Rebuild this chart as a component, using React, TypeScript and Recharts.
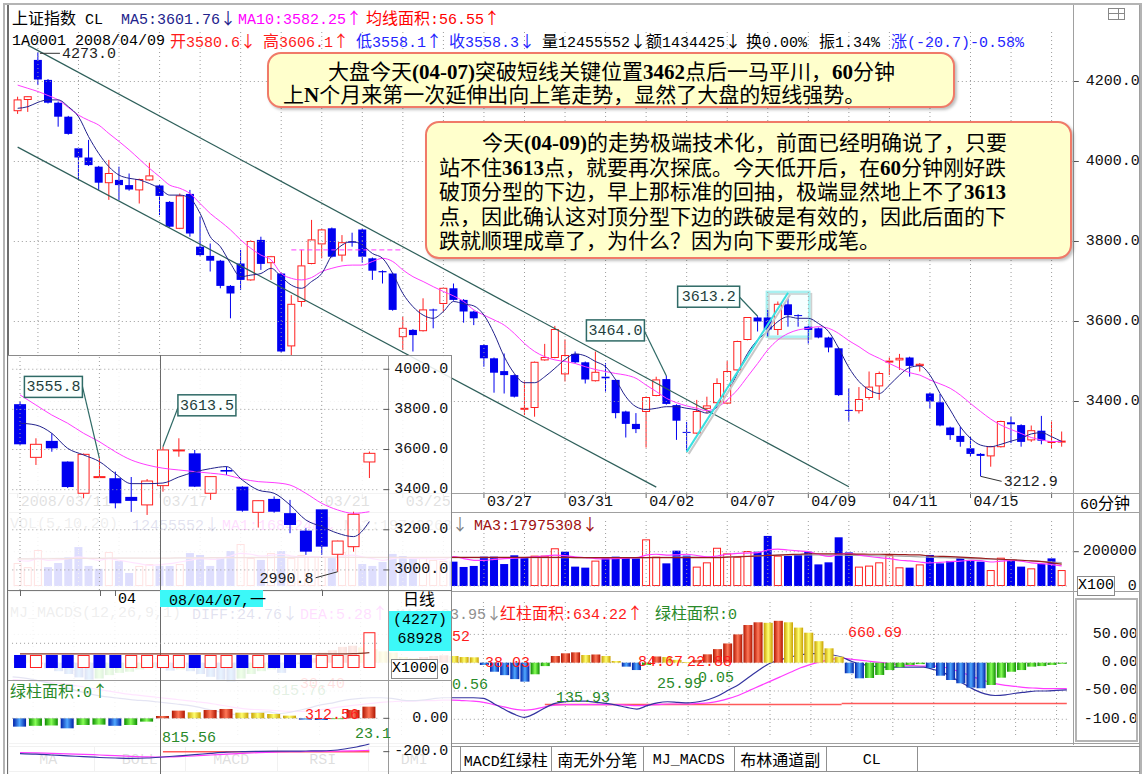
import React from 'react';
import { ComposedChart, Bar, Line, XAxis, YAxis, ReferenceLine, ReferenceDot, ReferenceArea } from 'recharts';

const W = 1147;
const H = 774;
const MONO = '"Liberation Mono", "DejaVu Sans Mono", monospace';
const CJKF = '"Noto Sans CJK SC", "Noto Sans CJK JP", sans-serif';
const SERIF = '"Liberation Serif", "DejaVu Serif", serif';
const RED = '#ff2020';
const BLUE = '#0000f0';
const NAVY = '#22228c';
const MAG = '#ff3cff';
const GRID = '#9c9c9c';

// ---------------- 60-minute chart (104 bars) ----------------
const openP = [4127,4155,4254,4204,4147,4112,4033,4010,3987,3947, 3954,3941,3929,3954,3940,3899,3833,3919,3787,3764,
  3752,3689,3745,3704,3804,3747,3720,3539,3650,3745, 3794,3833,3766,3800,3830,3758,3726,3720,3562,3579,
  3577,3630,3645,3683,3654,3625,3541,3508,3476,3466, 3381,3385,3504,3510,3469,3519,3498,3452,3462,3454,
  3375,3344,3375,3415,3456,3391,3324,3321,3383,3397, 3396,3479,3555,3610,3610,3580,3643,3616,3587,3583,
  3560,3533,3379,3377,3410,3439,3500,3504,3510,3490, 3420,3398,3335,3314,3283,3269,3264,3287,3348,3341,
  3304,3327,3298,3299];
const highP = [4162,4163,4273,4206,4150,4114,4035,4054,3989,4004, 3987,3970,3957,3997,3943,3901,3920,3929,3862,3795,
  3754,3691,3779,3803,3812,3764,3722,3666,3779,3854, 3831,3835,3816,3822,3832,3760,3728,3722,3612,3581,
  3658,3632,3685,3695,3656,3627,3543,3510,3520,3468, 3450,3500,3544,3589,3555,3525,3500,3525,3496,3456,
  3377,3371,3412,3462,3464,3393,3349,3404,3412,3458, 3501,3552,3611,3613.2,3629,3650,3658,3618,3589,3585,
  3562,3535,3433,3436,3475,3475,3510,3519,3512,3496, 3422,3419,3337,3337,3312,3271,3289,3352,3362,3343,
  3340,3364,3350,3325];
const lowP = [4119,4124,4191,4145,4087,4067,3954,3989,3929,3904, 3904,3927,3895,3952,3866,3835,3831,3812,3764,3725,
  3683,3608,3679,3702,3729,3704,3523,3516,3637,3743, 3758,3760,3750,3787,3747,3704,3695,3627,3529,3525,
  3575,3583,3625,3652,3597,3591,3487,3422,3420,3410, 3366,3362,3502,3508,3450,3495,3445,3450,3425,3358,
  3310,3321,3285,3413,3392,3304,3277,3319,3371,3395, 3394,3477,3553,3575,3562,3566,3587,3587,3545,3558,
  3523,3414,3350,3370,3404,3404,3466,3479,3462,3475, 3383,3338,3304,3287,3262,3212.9,3237,3285,3296,3287,
  3299,3293,3283,3287];
const closeP = [4154,4162,4205,4147,4112,4069,4010,3991,3947,3970, 3941,3930,3955,3964,3914,3837,3914,3820,3766,3752,
  3689,3670,3704,3800,3744,3762,3525,3643,3739,3804, 3829,3762,3797,3797,3762,3727,3723,3629,3583,3566,
  3629,3629,3683,3654,3625,3608,3508,3472,3466,3412, 3383,3498,3510,3580,3515,3498,3455,3473,3458,3371,
  3344,3331,3410,3454,3394,3352,3322,3375,3389,3445, 3475,3550,3610,3600,3580,3643,3616,3614,3579,3560,
  3535,3416,3377,3405,3436,3470,3501,3508,3489,3493, 3400,3340,3316,3299,3269,3264,3287,3350,3343,3299,
  3327,3302,3300,3301];
const ma5 = [4133,4137,4148,4154,4154,4137,4112,4062,4020,3987, 3966,3958,3954,3945,3933,3916,3916,3908,3870,3812,
  3787,3745,3712,3716,3720,3733,3712,3691,3683,3700, 3720,3766,3791,3800,3791,3770,3758,3720,3670,3637,
  3616,3608,3625,3650,3644,3639,3616,3570,3512,3470, 3447,3447,3462,3483,3505,3519,3514,3500,3487,3454,
  3412,3387,3380,3383,3387,3387,3383,3379,3371,3387, 3420,3470,3520,3554,3575,3600,3612,3608,3608,3595,
  3575,3533,3485,3450,3429,3420,3441,3466,3485,3489, 3466,3420,3379,3337,3308,3291,3287,3293,3301,3308,
  3319,3322,3312,3300];
const ma10 = [4191,4183,4175,4165,4154,4135,4116,4103,4091,4070, 4050,4029,4006,3983,3962,3941,3933,3920,3895,3870,
  3850,3829,3804,3783,3766,3754,3720,3708,3704,3710, 3725,3733,3739,3741,3741,3750,3758,3750,3729,3712,
  3700,3687,3675,3664,3650,3629,3616,3604,3591,3570, 3545,3525,3512,3504,3500,3495,3487,3480,3475,3470,
  3466,3458,3441,3425,3408,3397,3389,3383,3377,3385, 3404,3429,3462,3495,3529,3554,3570,3579,3583,3587,
  3583,3570,3552,3537,3520,3508,3495,3483,3472,3466, 3454,3444,3433,3416,3395,3375,3356,3341,3330,3320,
  3310,3304,3300,3300];
// volume in thousands (axis unit X100)
const volumeK = [134,110,210,110,134,169,227,117,100,198, 146,76,117,128,117,117,128,192,181,117,
  163,204,245,163,152,192,204,163,181,175, 169,163,198,227,128,117,140,187,175,158,
  169,152,146,142,111,117,171,171,128,179, 165,177,177,220,200,113,107,148,165,171,
  165,161,272,171,132,206,177,113,138,223, 190,171,204,200,292,177,175,185,200,126,
  138,284,196,113,119,138,181,109,107,126, 181,132,146,165,152,142,93,165,152,113,
  103,128,161,93];
const volMaA = [150,145,160,150,152,160,170,160,150,160, 150,140,130,120,125,130,140,150,160,155,
  160,175,190,185,175,180,185,175,170,172, 170,168,175,180,170,160,150,160,165,160,
  160,158,155,172,160,150,150,155,160,162, 165,170,175,180,177,170,165,160,158,160,
  163,165,180,185,180,182,185,178,170,175, 185,190,192,195,210,215,210,205,200,185,
  172,185,190,180,172,165,160,150,146,140, 135,138,142,145,150,148,140,145,150,145,
  135,130,125,117];
const volMaB = [160,160,161,161,162,162,162,163,163,163, 163,162,162,161,161,161,162,162,163,163,
  164,165,166,167,168,168,168,168,168,168, 167,167,167,167,166,166,165,165,165,165,
  165,165,165,165,165,165,165,165,165,165, 165,165,166,166,166,165,165,165,165,165,
  165,165,166,167,167,168,168,168,168,168, 170,172,174,176,178,180,181,182,182,181,
  180,180,179,178,177,176,175,174,172,170, 168,166,164,162,160,158,156,154,152,150,
  147,144,140,136];
const volMaC = [158,158,159,159,160,160,161,161,161,162, 162,162,163,163,163,163,164,164,164,165,
  165,165,166,166,166,166,167,167,167,167, 167,167,167,167,167,167,167,167,167,167,
  167,167,167,167,167,167,167,167,167,167, 167,167,167,167,167,166,166,166,166,166,
  166,166,166,166,166,166,166,166,166,166, 168,170,172,175,178,180,183,185,188,188,
  187,187,186,186,185,185,184,183,182,181, 175,173,171,168,165,162,159,156,153,150,
  146,142,135,128];
const macdHist = [8,5,-3,-10,-15,-20,-26,-30,-28,-22, -18,-16,-12,-8,-10,-14,-12,-15,-20,-25,
  -30,-33,-28,-20,-15,-12,-18,-10,-2,8, 18,22,28,30,27,24,20,18,10,8,
  10,12,13,11.8,10,9.5,-4,-16,-22,-29, -33.5,-20.5,-6,11.8,16.6,18.3,13.6,14.5,11.8,3,
  -7,-13,-4,11,10,5,1,5,14.8,24, 34,50,66.6,71.4,70.5,74,71.4,62,53,38,
  25.4,10.6,-18.7,-27.6,-27,-21.7,-13,-8,-4,-2.5, -9.4,-23,-30.6,-36.4,-44,-45.2,-39.4,-26.5,-16,-13,
  -7,-6,-4,-2];
const macdDiff = [-25,-27,-30,-34,-38,-43,-48,-53,-57,-60, -62,-64,-66,-67,-69,-71,-73,-75,-78,-82,
  -86,-90,-92,-90,-88,-87,-90,-88,-84,-80, -75,-72,-68,-65,-63,-62,-62,-63,-66,-67,
  -66,-64,-62,-62,-62,-62,-63,-72,-82,-91, -96.5,-90,-80,-72,-69,-68,-68,-70,-72,-75,
  -79,-82,-76,-71,-69,-70,-71,-69,-65,-58, -48,-38,-25,-12,-1,5,10,14,16,16,
  14,10,2,-3,-6,-8,-8,-8,-8,-8, -12,-18,-28,-38,-48,-55,-58,-57,-54,-52,
  -50,-50,-49,-48];
const macdDea = [-30,-31,-32,-33,-35,-37,-40,-43,-46,-49, -52,-55,-57,-59,-61,-63,-65,-67,-69,-71,
  -74,-77,-80,-82,-83,-84,-85,-86,-86,-85, -83,-81,-78,-76,-74,-72,-70,-69,-68,-68,
  -67,-67,-66,-66,-67,-68,-70,-74,-78,-82, -84,-82,-78,-75,-74,-74,-74,-74,-74,-74,
  -75,-76,-75,-74,-73,-73,-73,-72,-71,-68, -63,-57,-49,-41,-33,-25,-17,-9,-3,2,
  6,8,6,4,2,0,-2,-4,-5,-6, -6,-8,-13,-19,-26,-32,-37,-40,-42,-44,
  -45,-46,-46,-46];
const macdBase = [-74, -72];

const dayTicks = [1,3,7,11,15,19,23,27,31,35,39,43,47,51,55,59,63,67,71,75,79,83,87,91,95,99,103];
const gridDays = [3,7,11,15,19,23,27,31,35,39,43,47,51,55,59,63,67,71,75,79,83,87,91,95,99,103];
const dateLabels = { 1: '2008/03/11', 15: '03/17', 31: '03/21', 39: '03/25', 47: '03/27', 55: '03/31', 63: '04/02', 71: '04/07', 79: '04/09', 87: '04/11', 95: '04/15' };
const priceTicks = [3400, 3600, 3800, 4000, 4200];

// ---------------- daily inset (23 bars) ----------------
const dOpen = [3826,3561,3643,3540,3382,3462,3457,3364,3324,3420, 3596,3581,3382,3498,3415,3287,3354,3283,3196,3302, 3078,3116,3538];
const dHigh = [3839,3656,3681,3541,3580,3555.8,3490,3463,3453,3613.5, 3656,3598,3467,3515,3417,3347,3366,3349,3208,3304, 3146,3290,3590];
const dLow = [3623,3523,3589,3408,3357,3459,3307,3289,3274,3390, 3564,3413,3349,3473,3290,3211,3285,3183,3075,3075, 2990.8,3091,3458];
const dClose = [3626,3626,3606,3413,3576,3465,3332,3344,3443,3598, 3598,3415,3465,3490,3295,3345,3290,3224,3091,3116, 3144,3277,3581];
const dMa5 = [3731,3722,3681,3606,3573,3540,3480,3430,3430,3433, 3463,3488,3505,3515,3448,3398,3382,3324,3249,3216, 3183,3166,3241];
const dMa10 = [3872,3822,3772,3731,3681,3639,3589,3548,3523,3507, 3498,3490,3482,3473,3453,3440,3435,3423,3382,3332, 3299,3282,3290];
const dVolBox = [100,100,100,100,100,100,100,100,100,100, 100,100,100,100,100,100,100,100,100,100, 100,100,275];
const dVolMa = [108,108,108,108,108,108,108,108,108,108, 108,108,108,108,108,108,108,108,108,108, 108,110,118];
const dMacd = [-50,-45,-43,-60,-40,-38,-45,-40,-20,14, 46,36,50,56,34,33,26,16,-8,-10, -5,50,70];
const dDiff = [-212,-215,-220,-225,-230,-235,-238,-240,-238,-232, -225,-218,-210,-203,-200,-198,-197,-197,-196,-195, -190,-175,-154];
const dDea = [-205,-207,-210,-213,-216,-220,-224,-228,-231,-232, -230,-226,-220,-215,-210,-206,-203,-200,-199,-198, -197,-195,-192];
const dTicks = [3000, 3200, 3400, 3600, 3800, 4000];

function histColor(arr, i) {
  const v = arr[i];
  const prev = i === 0 ? 0 : arr[i - 1];
  if (v >= 0) return v >= prev ? 'R' : 'Y';
  return v <= prev ? 'B' : 'G';
}

const mainData = openP.map((o, i) => ({
  n: i + 1, o, h: highP[i], l: lowP[i], c: closeP[i], ma5: ma5[i], ma10: ma10[i],
  vol: volumeK[i], vUp: i === 0 ? closeP[0] >= o : closeP[i] >= closeP[i - 1],
  va: volMaA[i], vb: volMaB[i], vc: volMaC[i],
  hist: macdHist[i], hc: histColor(macdHist, i), diff: macdDiff[i], dea: macdDea[i],
}));

const insetData = dOpen.map((o, i) => ({
  k: i + 1, o, h: dHigh[i], l: dLow[i], c: dClose[i], ma5: dMa5[i], ma10: dMa10[i],
  vol: dVolBox[i], vm: dVolMa[i], vUp: i === 0 ? dClose[0] >= o : dClose[i] >= dClose[i - 1],
  hist: dMacd[i], hc: histColor(dMacd, i), diff: dDiff[i], dea: dDea[i],
}));

// ---------------- text helpers ----------------
const CJK_RE = /[\u2190-\u21ff\u3000-\u303f\u3400-\u9fff\uff00-\uffef]/;
function runs(s) {
  const out = [];
  for (const ch of s) {
    const c = CJK_RE.test(ch);
    if (out.length && out[out.length - 1].cjk === c) out[out.length - 1].t += ch;
    else out.push({ t: ch, cjk: c });
  }
  return out;
}
function MT({ s, color = '#000', cs = 16, ls = 15, lf = MONO, lw = 400 }) {
  return (
    <span style={{ color, whiteSpace: 'pre' }}>
      {runs(s).map((r, i) => (
        <span key={i} style={{ fontFamily: r.cjk ? CJKF : lf, fontSize: r.cjk ? cs : ls, fontWeight: r.cjk ? 400 : lw }}>{r.t}</span>
      ))}
    </span>
  );
}
function At({ x, y, children, style = {} }) {
  return <div style={{ position: 'absolute', left: x, top: y - 10, lineHeight: '20px', whiteSpace: 'pre', ...style }}>{children}</div>;
}
function HLine({ x1, x2, y, color = '#a0a0a0', w = 1 }) {
  return <div style={{ position: 'absolute', left: x1, top: y, width: x2 - x1, height: w, background: color }} />;
}
function VLine({ x, y1, y2, color = '#a0a0a0', w = 1 }) {
  return <div style={{ position: 'absolute', left: x, top: y1, width: w, height: y2 - y1, background: color }} />;
}

// ---------------- shapes ----------------
function CandleShape(props) {
  const { x, y, width, height, payload } = props;
  if (!payload || payload.h == null) return null;
  const { o, h, l, c } = payload;
  const span = h - l;
  const k = span > 0 ? height / span : 0;
  const py = (v) => y + (h - v) * k;
  const cx = x + width / 2;
  const up = c >= o;
  const bt = py(Math.max(o, c));
  const bh = Math.max(1, py(Math.min(o, c)) - bt);
  if (up) {
    return (
      <g>
        <line x1={cx} x2={cx} y1={py(h)} y2={bt} stroke={RED} strokeWidth={1} />
        <line x1={cx} x2={cx} y1={bt + bh} y2={py(l)} stroke={RED} strokeWidth={1} />
        <rect x={x + 0.5} y={bt} width={width - 1} height={bh} fill="#fff" stroke={RED} strokeWidth={1} />
      </g>
    );
  }
  return (
    <g>
      <line x1={cx} x2={cx} y1={py(h)} y2={py(l)} stroke={BLUE} strokeWidth={1} />
      <rect x={x} y={bt} width={width} height={bh} fill={BLUE} />
    </g>
  );
}
function VolShape(props) {
  const { x, y, width, height, payload } = props;
  if (!payload || payload.vol == null) return null;
  if (payload.vUp) return <rect x={x + 0.5} y={y + 0.5} width={width - 1} height={Math.max(0, height - 1)} fill="#fff" stroke={RED} strokeWidth={1} />;
  return <rect x={x} y={y} width={width} height={height} fill={BLUE} />;
}
const makeHistShape = (prefix) => (props) => {
  let { x, y, width, height, payload } = props;
  if (!payload || payload.hist == null) return null;
  if (height < 0) { y += height; height = -height; }
  return <rect x={x} y={y} width={width} height={Math.max(height, 0.8)} fill={`url(#${prefix}${payload.hc})`} />;
};
function Grads({ p }) {
  const defs = [['R', '#b01400', '#ff7858'], ['Y', '#c8a000', '#ffff70'], ['B', '#0020a8', '#50a8ff'], ['G', '#0c8c00', '#88ff58']];
  return (
    <defs>
      {defs.map(([k, a, b]) => (
        <linearGradient key={k} id={p + k} x1="0" x2="1" y1="0" y2="0">
          <stop offset="0" stopColor={a} />
          <stop offset="0.5" stopColor={b} />
          <stop offset="1" stopColor={a} />
        </linearGradient>
      ))}
    </defs>
  );
}

// ticks
function RightTick({ x, y, payload, fmt, mark = true, endOff = 71 }) {
  return (
    <g>
      {mark && <line x1={x + 6} x2={x + 12} y1={y} y2={y} stroke="#555" />}
      <text x={x + endOff} y={y} textAnchor="end" dominantBaseline="central" fontFamily={MONO} fontSize={15} fill="#111">{fmt(payload.value)}</text>
    </g>
  );
}
function DateTick({ x, y, payload }) {
  const lab = dateLabels[payload.value];
  return (
    <g>
      <line x1={x} x2={x} y1={y} y2={y + 5} stroke="#666" />
      {lab && <text x={x + 3} y={y + 13} fontFamily={MONO} fontSize={15} fill="#111">{lab}</text>}
    </g>
  );
}

// point labels
function BoxLabel({ cx, cy, text, bx, by, bw = 58, bh = 21, ax, ay }) {
  return (
    <g>
      <line x1={cx + ax} y1={cy + ay} x2={cx} y2={cy} stroke="#2f6a66" strokeWidth={1.2} />
      <rect x={cx + bx} y={cy + by} width={bw} height={bh} fill="#fbfffe" stroke="#2f6a66" strokeWidth={1.5} />
      <text x={cx + bx + bw / 2} y={cy + by + bh / 2 + 1} textAnchor="middle" dominantBaseline="central" fontFamily={MONO} fontSize={15} fill="#1e3e3c">{text}</text>
    </g>
  );
}

const peak = { n: 3, v: 4273.0 };
const box3464 = { n: 65, v: 3464.0 };
const box3613 = { n: 74, v: 3613.2 };
const low3212 = { n: 96, v: 3212.9 };
const dBox3555 = { k: 6, v: 3555.8 };
const dBox3613 = { k: 10, v: 3613.5 };
const dLow2990 = { k: 21, v: 2990.8 };

function MainPrice() {
  return (
    <ComposedChart width={W} height={H} data={mainData} margin={{ top: 30, right: 0, bottom: H - 493 - 19, left: 12.6 }}>
      <XAxis dataKey="n" type="category" ticks={dayTicks} interval={0} height={19} tickSize={0} tickMargin={0} axisLine={false} tick={(p) => <DateTick {...p} />} />
      <YAxis orientation="right" type="number" width={80.2} domain={[3171.25, 4328.75]} allowDataOverflow ticks={priceTicks} tickSize={0} tickMargin={0} axisLine={false}
        tick={(p) => <RightTick {...p} fmt={(v) => v.toFixed(1)} endOff={73} />} />
      {priceTicks.map((v) => <ReferenceLine key={'h' + v} y={v} stroke={GRID} strokeDasharray="1 3" />)}
      {gridDays.map((d) => <ReferenceLine key={'v' + d} x={d} stroke={GRID} strokeDasharray="1 3" />)}
      <ReferenceLine segment={[{ x: 2, y: 4291 }, { x: 83, y: 3187 }]} stroke="#2e5f5a" strokeWidth={1.2} />
      <ReferenceLine segment={[{ x: 1, y: 4036 }, { x: 64, y: 3186 }]} stroke="#2e5f5a" strokeWidth={1.2} />
      <ReferenceLine segment={[{ x: 28, y: 3779 }, { x: 39, y: 3779 }]} stroke={MAG} strokeDasharray="5 3" />
      <ReferenceArea x1={76} x2={78} y1={3562} y2={3674} ifOverflow="visible"
        shape={(p) => (
          <g>
            <rect x={p.x - 4} y={p.y + 2} width={p.width + 12} height={p.height} fill="none" stroke="#d0d0d0" strokeWidth={2} />
            <rect x={p.x - 6} y={p.y} width={p.width + 12} height={p.height} fill="rgba(200,255,255,0.15)" stroke="#a8f0f0" strokeWidth={2.5} />
          </g>
        )} />
      <Bar dataKey={(d) => [d.l, d.h]} barSize={8} shape={CandleShape} isAnimationActive={false} />
      <Line dataKey="ma10" type="monotone" stroke={MAG} strokeWidth={1} dot={false} isAnimationActive={false} />
      <Line dataKey="ma5" type="monotone" stroke={NAVY} strokeWidth={1} dot={false} isAnimationActive={false} />
      <ReferenceLine segment={[{ x: 67, y: 3274 }, { x: 77, y: 3672 }]}
        shape={(p) => (
          <g>
            <line x1={p.x1 + 2} y1={p.y1 + 2} x2={p.x2 + 2} y2={p.y2 + 2} stroke="#c8c8c8" strokeWidth={2} />
            <line x1={p.x1} y1={p.y1} x2={p.x2} y2={p.y2} stroke="#38e0e0" strokeWidth={2} />
          </g>
        )} />
      <ReferenceDot x={peak.n} y={peak.v} r={0}
        shape={(p) => (
          <g>
            <line x1={p.cx + 2} y1={p.cy + 1} x2={p.cx + 22} y2={p.cy + 1} stroke="#333" />
            <text x={p.cx + 24} y={p.cy + 6} fontFamily={MONO} fontSize={15} fill="#222">{peak.v.toFixed(1)}</text>
          </g>
        )} />
      <ReferenceDot x={box3464.n} y={box3464.v} r={0}
        shape={(p) => <BoxLabel cx={p.cx} cy={p.cy} text={box3464.v.toFixed(1)} bx={-80} by={-56} ax={-22} ay={-45} />} />
      <ReferenceDot x={box3613.n} y={box3613.v} r={0}
        shape={(p) => <BoxLabel cx={p.cx} cy={p.cy} text={box3613.v.toFixed(1)} bx={-80} by={-30} bw={62} ax={-18} ay={-19} />} />
      <ReferenceDot x={low3212.n} y={low3212.v} r={0}
        shape={(p) => (
          <g>
            <line x1={p.cx} y1={p.cy} x2={p.cx + 21} y2={p.cy + 5} stroke="#333" />
            <text x={p.cx + 23} y={p.cy + 10} fontFamily={MONO} fontSize={15} fill="#222">{low3212.v.toFixed(1)}</text>
          </g>
        )} />
    </ComposedChart>
  );
}

function MainVolume() {
  return (
    <ComposedChart width={W} height={H} data={mainData} margin={{ top: 518, right: 0, bottom: H - 586, left: 12.6 }}>
      <XAxis dataKey="n" type="category" hide />
      <YAxis orientation="right" type="number" width={80.2} domain={[0, 396.5]} ticks={[0, 200]} tickSize={0} tickMargin={0} axisLine={false}
        tick={(p) => <RightTick {...p} mark={p.payload.value !== 0} fmt={(v) => String(v * 1000)} endOff={70} />} />
      <ReferenceLine y={200} stroke={GRID} strokeDasharray="1 3" />
      <ReferenceLine y={0} stroke={GRID} strokeDasharray="1 3" />
      {gridDays.map((d) => <ReferenceLine key={'v' + d} x={d} stroke={GRID} strokeDasharray="1 3" />)}
      <Bar dataKey="vol" barSize={8} shape={VolShape} isAnimationActive={false} />
      <Line dataKey="vb" type="monotone" stroke="#a8a8a8" strokeWidth={1.2} dot={false} isAnimationActive={false} />
      <Line dataKey="va" type="monotone" stroke={MAG} strokeWidth={1.2} dot={false} isAnimationActive={false} />
      <Line dataKey="vc" type="monotone" stroke="#9a1c1c" strokeWidth={1.2} dot={false} isAnimationActive={false} />
    </ComposedChart>
  );
}

const macdMargin = { top: 600, right: 0, bottom: H - 735, left: 12.6 };
const macdDomain = [-127.8, 110.8];

function MainMacdLines() {
  return (
    <ComposedChart width={W} height={H} data={mainData} margin={macdMargin}>
      <XAxis dataKey="n" type="category" hide />
      <YAxis orientation="right" type="number" width={80.2} domain={macdDomain} ticks={[-100, -50, 0, 50]} tickSize={0} tickMargin={0} axisLine={false}
        tick={(p) => <RightTick {...p} mark={false} fmt={(v) => (Math.abs(v) >= 100 ? v.toFixed(1) : v.toFixed(2))} endOff={71} />} />
      {[-100, -50, 0, 50].map((v) => <ReferenceLine key={'h' + v} y={v} stroke={GRID} strokeDasharray="1 3" />)}
      {gridDays.map((d) => <ReferenceLine key={'v' + d} x={d} stroke={GRID} strokeDasharray="1 3" />)}
      <ReferenceLine segment={[{ x: 53, y: macdBase[0] }, { x: 82, y: macdBase[0] }]} stroke="#ff5a5a" strokeWidth={1.6} />
      <ReferenceLine segment={[{ x: 82, y: macdBase[1] }, { x: 104, y: macdBase[1] }]} stroke="#ff5a5a" strokeWidth={1.6} />
      <Line dataKey="dea" type="monotone" stroke={MAG} strokeWidth={1.2} dot={false} isAnimationActive={false} />
      <Line dataKey="diff" type="monotone" stroke="#3434a0" strokeWidth={1.2} dot={false} isAnimationActive={false} />
    </ComposedChart>
  );
}

function MainMacdBars() {
  return (
    <ComposedChart width={W} height={H} data={mainData} margin={macdMargin}>
      <Grads p="mg" />
      <XAxis dataKey="n" type="category" hide />
      <YAxis orientation="right" type="number" width={80.2} domain={macdDomain} tick={false} axisLine={false} tickLine={false} />
      <Bar dataKey="hist" barSize={9} shape={makeHistShape('mg')} isAnimationActive={false} />
    </ComposedChart>
  );
}

function InsetPrice() {
  return (
    <ComposedChart width={460} height={H} data={insetData} margin={{ top: 355, right: 12.7, bottom: H - 590, left: 12.06 }}>
      <XAxis dataKey="k" type="category" hide />
      <YAxis orientation="right" type="number" width={70} domain={[2900, 4071]} allowDataOverflow ticks={dTicks} tickSize={0} tickMargin={0} axisLine={false}
        tick={(p) => <RightTick {...p} fmt={(v) => v.toFixed(1)} endOff={71} />} />
      {dTicks.map((v) => <ReferenceLine key={'h' + v} y={v} stroke={GRID} strokeDasharray="1 3" />)}
      {[1, 6, 20].map((d) => <ReferenceLine key={'v' + d} x={d} stroke={GRID} strokeDasharray="1 3" />)}
      <Bar dataKey={(d) => [d.l, d.h]} barSize={12} shape={CandleShape} isAnimationActive={false} />
      <Line dataKey="ma10" type="monotone" stroke={MAG} strokeWidth={1} dot={false} isAnimationActive={false} />
      <Line dataKey="ma5" type="monotone" stroke={NAVY} strokeWidth={1} dot={false} isAnimationActive={false} />
      <ReferenceDot x={dBox3555.k} y={dBox3555.v} r={0}
        shape={(p) => <BoxLabel cx={p.cx} cy={p.cy} text={dBox3555.v.toFixed(1)} bx={-75} by={-82} ax={-17} ay={-72} />} />
      <ReferenceDot x={dBox3613.k} y={dBox3613.v} r={0}
        shape={(p) => <BoxLabel cx={p.cx} cy={p.cy} text={dBox3613.v.toFixed(1)} bx={15} by={-52} ax={15} ay={-39} />} />
      <ReferenceDot x={dLow2990.k} y={dLow2990.v} r={0}
        shape={(p) => (
          <g>
            <line x1={p.cx} y1={p.cy} x2={p.cx - 22} y2={p.cy + 6} stroke="#333" />
            <text x={p.cx - 24} y={p.cy + 11} textAnchor="end" fontFamily={MONO} fontSize={15} fill="#222">{dLow2990.v.toFixed(1)}</text>
          </g>
        )} />
    </ComposedChart>
  );
}

function InsetVol() {
  return (
    <ComposedChart width={460} height={H} data={insetData} margin={{ top: 620, right: 82.7, bottom: H - 668, left: 12.06 }}>
      <XAxis dataKey="k" type="category" hide />
      <YAxis hide type="number" domain={[0, 369]} />
      <ReferenceLine y={190} stroke={GRID} strokeDasharray="1 3" />
      <Bar dataKey="vol" barSize={12} shape={VolShape} isAnimationActive={false} />
      <Line dataKey="vm" type="monotone" stroke="#8a3a2a" strokeWidth={1.2} dot={false} isAnimationActive={false} />
    </ComposedChart>
  );
}

function InsetMacd() {
  return (
    <ComposedChart width={460} height={H} data={insetData} margin={{ top: 682, right: 12.7, bottom: H - 770, left: 12.06 }}>
      <Grads p="ig" />
      <XAxis dataKey="k" type="category" hide />
      <YAxis orientation="right" type="number" width={70} domain={[-310, 217.8]} ticks={[-200, 0]} tickSize={0} tickMargin={0} axisLine={false}
        tick={(p) => <RightTick {...p} fmt={(v) => (Math.abs(v) >= 100 ? v.toFixed(1) : v.toFixed(2))} endOff={71} />} />
      <ReferenceLine y={0} stroke={GRID} strokeDasharray="1 3" />
      <ReferenceLine segment={[{ x: 10, y: -200 }, { x: 23, y: -200 }]} stroke="#ff5a5a" strokeWidth={1.5} />
      <Line dataKey="dea" type="monotone" stroke={MAG} strokeWidth={1.2} dot={false} isAnimationActive={false} />
      <Line dataKey="diff" type="monotone" stroke="#3434a0" strokeWidth={1.2} dot={false} isAnimationActive={false} />
      <Bar dataKey="hist" barSize={13} shape={makeHistShape('ig')} isAnimationActive={false} />
    </ComposedChart>
  );
}

const layer = { position: 'absolute', left: 0, top: 0 };

const box1Lines = ['大盘今天(04-07)突破短线关键位置3462点后一马平川，60分钟', '上N个月来第一次延伸出向上笔走势，显然了大盘的短线强势。'];
const box2Lines = [
  '今天(04-09)的走势极端技术化，前面已经明确说了，只要',
  '站不住3613点，就要再次探底。今天低开后，在60分钟刚好跌',
  '破顶分型的下边，早上那标准的回抽，极端显然地上不了3613',
  '点，因此确认这对顶分型下边的跌破是有效的，因此后面的下',
  '跌就顺理成章了，为什么？因为向下要形成笔。',
];
const tabs = ['MA', 'BOLL', 'MACD', 'RSI', 'DMI', 'MACD红绿柱', '南无外分笔', 'MJ_MACDS', '布林通道副', 'CL'];

export default function App() {
  return (
    <div style={{ position: 'absolute', left: 0, top: 0, width: W, height: H, background: '#fff', overflow: 'hidden' }}>
      {/* outer frame */}
      <div style={{ position: 'absolute', left: 3, top: 3, width: 1139, height: 775, border: '2px solid #b4b4b4', boxSizing: 'border-box' }} />
      <VLine x={7} y1={5} y2={774} color="#6e6e6e" w={1.5} />

      <div style={layer}><MainPrice /></div>
      <div style={layer}><MainVolume /></div>
      <div style={layer}><MainMacdLines /></div>
      <div style={layer}><MainMacdBars /></div>

      {/* panel lines */}
      <VLine x={1073} y1={5} y2={745} />
      <VLine x={1139} y1={5} y2={774} />
      <HLine x1={8} x2={1140} y={493} />
      <HLine x1={8} x2={1140} y={512} />
      <HLine x1={8} x2={1140} y={591} />
      <HLine x1={8} x2={1140} y={743} />
      <div style={{ position: 'absolute', left: 1075, top: 598, width: 63, height: 144, border: '2px solid #b4b4b4', boxSizing: 'border-box' }} />
      <div style={{ position: 'absolute', left: 1108, top: 8, width: 17, height: 12, border: '1px solid #888', boxSizing: 'border-box' }}>
        <div style={{ position: 'absolute', left: 9, top: 0, width: 1, height: 10, background: '#888' }} />
        <div style={{ position: 'absolute', left: 0, top: 4, width: 15, height: 1, background: '#888' }} />
      </div>

      {/* header */}
      <At x={12} y={17}><MT s="上证指数 CL" /></At>
      <At x={121} y={17}><MT s="MA5:3601.76↓" color={NAVY} /></At>
      <At x={238} y={17}><MT s="MA10:3582.25↑" color="#ff00ff" /></At>
      <At x={366} y={17}><MT s="均线面积:56.55↑" color="#ff0000" /></At>
      <At x={12} y={40}><MT s="1A0001 2008/04/09" /></At>
      <At x={170} y={40}><MT s="开3580.6↓" color="#ff1a1a" /></At>
      <At x={263} y={40}><MT s="高3606.1↑" color="#ff1a1a" /></At>
      <At x={356} y={40}><MT s="低3558.1↑" color="#2424ff" /></At>
      <At x={449} y={40}><MT s="收3558.3↓" color="#2424ff" /></At>
      <At x={542} y={40}><MT s="量12455552↓" /></At>
      <At x={646} y={40}><MT s="额1434425↓" /></At>
      <At x={746} y={40}><MT s="换0.00%" /></At>
      <At x={819} y={40}><MT s="振1.34%" /></At>
      <At x={891} y={40}><MT s="涨(-20.7)-0.58%" color="#2424ff" /></At>

      {/* right column labels */}
      <At x={1080} y={502}><MT s="60分钟" /></At>
      <div style={{ position: 'absolute', left: 1077, top: 576, width: 38, height: 20, border: '1px solid #8a8a8a', background: '#fff', boxSizing: 'border-box', fontFamily: MONO, fontSize: 15, lineHeight: '18px', textAlign: 'center' }}>X100</div>

      {/* volume header */}
      <At x={10} y={523}><MT s="VOL(5,10,20)" color="#808080" /></At>
      <At x={132} y={523}><MT s="12455552↓" color={NAVY} /></At>
      <At x={222} y={523}><MT s="MA1:1684248↓" color="#ff00ff" /></At>
      <At x={344} y={523}><MT s="MA2:19743263↓" color="#808080" /></At>
      <At x={474} y={523}><MT s="MA3:17975308↓" color="#a01010" /></At>

      {/* macd header */}
      <At x={10} y={612}><MT s="MJ_MACDS(12,26,9,1)" color="#808080" /></At>
      <At x={192} y={612}><MT s="DIFF:24.76↓" color={NAVY} /></At>
      <At x={300} y={612}><MT s="DEA:5.28↑" color="#ff00ff" /></At>
      <At x={396} y={612}><MT s="MACD:33.95↓" color="#909090" /></At>
      <At x={500} y={612}><MT s="红柱面积:634.22↑" color="#ff1a1a" /></At>
      <At x={655} y={612}><MT s="绿柱面积:0" color="#2a8a2a" /></At>

      {/* macd annotations */}
      <At x={272} y={690}><MT s="815.76" color="#2a8a2a" /></At>
      <At x={300} y={683}><MT s="30.40" color="#ff1a1a" /></At>
      <At x={452} y={636}><MT s="52" color="#ff1a1a" /></At>
      <At x={485} y={662}><MT s="38.03" color="#ff1a1a" /></At>
      <At x={452} y={684}><MT s="0.56" color="#2a8a2a" /></At>
      <At x={556} y={697}><MT s="135.93" color="#2a8a2a" /></At>
      <At x={638} y={661}><MT s="84.67" color="#ff1a1a" /></At>
      <At x={687} y={661}><MT s="22.88" color="#ff1a1a" /></At>
      <At x={657} y={683}><MT s="25.99" color="#2a8a2a" /></At>
      <At x={698} y={677}><MT s="0.05" color="#2a8a2a" /></At>
      <At x={848} y={632}><MT s="660.69" color="#ff1a1a" /></At>

      {/* tab bar */}
      <HLine x1={8} x2={1140} y={746} color="#909090" />
      <HLine x1={8} x2={1140} y={771} color="#909090" />
      {tabs.map((t, i) => (
        <div key={t} style={{ position: 'absolute', left: 3 + i * 91.5, top: 747, width: 91.5, height: 24, textAlign: 'center', lineHeight: '24px', borderRight: '1px solid #909090', boxSizing: 'border-box' }}>
          <MT s={t} />
        </div>
      ))}

      {/* annotation boxes */}
      <div style={{ position: 'absolute', left: 267, top: 52, width: 688, height: 56, background: '#ffffcc', border: '2px solid #f07a68', borderRadius: 14, boxSizing: 'border-box', boxShadow: '2px 2px 3px rgba(0,0,0,0.25)' }}>
        {box1Lines.map((l, i) => (
          <div key={i} style={{ position: 'absolute', left: i === 0 ? 59 : 14, top: 4 + i * 23, lineHeight: '24px', whiteSpace: 'pre' }}>
            <MT s={l} cs={21} ls={21} lf={SERIF} lw={600} />
          </div>
        ))}
      </div>
      <div style={{ position: 'absolute', left: 425, top: 121, width: 647, height: 138, background: '#ffffcc', border: '2px solid #f07a68', borderRadius: 14, boxSizing: 'border-box', boxShadow: '2px 2px 3px rgba(0,0,0,0.25)' }}>
        {box2Lines.map((l, i) => (
          <div key={i} style={{ position: 'absolute', left: i === 0 ? 55 : 12, top: 6 + i * 24.5, lineHeight: '24px', whiteSpace: 'pre' }}>
            <MT s={l} cs={21} ls={21} lf={SERIF} lw={600} />
          </div>
        ))}
      </div>

      {/* inset daily chart (semi-transparent overlay) */}
      <div style={{ position: 'absolute', left: 8, top: 355, width: 444, height: 419, background: 'rgba(255,255,255,0.87)', borderTop: '1px solid #8a8a8a', borderRight: '1px solid #8a8a8a', boxSizing: 'border-box' }} />
      <VLine x={388} y1={355} y2={774} color="#9a9a9a" />
      <HLine x1={8} x2={452} y={590} color="#7a7a7a" />
      <HLine x1={8} x2={452} y={680} color="#9a9a9a" />
      <VLine x={160} y1={355} y2={774} color="#6a6a6a" />
      {[20, 100, 115, 322].map((x) => <VLine key={x} x={x} y1={590} y2={596} color="#666" />)}
      <At x={118} y={598}><MT s="04" /></At>
      <div style={{ position: 'absolute', left: 160, top: 590, width: 103, height: 17, background: '#3cf8f8', lineHeight: '17px', whiteSpace: 'pre' }}>
        <MT s=" 08/04/07,一" />
      </div>
      <At x={403} y={598}><MT s="日线" /></At>
      <div style={{ position: 'absolute', left: 389, top: 611, width: 62, height: 40, background: '#3cf8f8', fontFamily: MONO, fontSize: 15, lineHeight: '19px', textAlign: 'center' }}>
        (4227)<br />68928
      </div>
      <div style={{ position: 'absolute', left: 391, top: 659, width: 47, height: 20, border: '1px solid #8a8a8a', background: '#fff', boxSizing: 'border-box', fontFamily: MONO, fontSize: 15, lineHeight: '18px', textAlign: 'center' }}>X1000</div>
      <At x={440} y={669}><MT s="0" /></At>
      <At x={10} y={690}><MT s="绿柱面积:0↑" color="#2a8a2a" /></At>

      <div style={layer}><InsetPrice /></div>
      <div style={layer}><InsetVol /></div>
      <div style={layer}><InsetMacd /></div>

      <At x={162} y={737}><MT s="815.56" color="#2a8a2a" /></At>
      <At x={305} y={714}><MT s="312.56" color="#ff1a1a" /></At>
      <At x={355} y={733}><MT s="23.1" color="#2a8a2a" /></At>
    </div>
  );
}
